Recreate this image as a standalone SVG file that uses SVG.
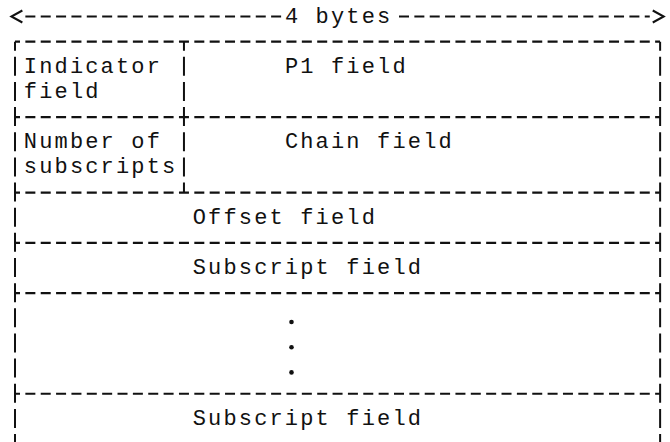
<svg xmlns="http://www.w3.org/2000/svg" width="670" height="442" viewBox="0 0 670 442">
  <style>
    .t { font-family: "Liberation Mono", "Courier New", monospace; font-size: 22px; letter-spacing: 2.16px; fill: #111; }
    .h { stroke: #111; stroke-width: 2.2; fill: none; stroke-dasharray: 10 5.36; stroke-dashoffset: 5; }
    .v { stroke: #111; stroke-width: 2; fill: none; stroke-dasharray: 19 6.15; stroke-dashoffset: 10; }
    .a { stroke: #111; stroke-width: 2.2; fill: none; stroke-dasharray: 10 5.36; }
    .dot { fill: #111; }
  </style>
  <defs>
    <marker id="chev" markerUnits="userSpaceOnUse" markerWidth="20" markerHeight="20" refX="-3" refY="0" orient="auto-start-reverse" overflow="visible">
      <path d="M0,-6 L11,0 L0,6" fill="none" stroke="#111" stroke-width="2"/>
    </marker>
  </defs>
  <rect width="670" height="442" fill="#fff"/>

  <g id="connectors">
    <path class="a" d="M25.36,16.5 H281.12" marker-start="url(#chev)"/>
    <path class="a" d="M399,16.5 H649.76" marker-end="url(#chev)"/>
  </g>
  <g id="width-label">
    <text class="t" x="284.9" y="22.5">4 bytes</text>
  </g>

  <g id="grid">
    <path class="h" d="M15,41.65 H660"/>
    <path class="h" d="M15,117.1 H660"/>
    <path class="h" d="M15,192.55 H660"/>
    <path class="h" d="M15,242.85 H660"/>
    <path class="h" d="M15,293.15 H660"/>
    <path class="h" d="M15,393.75 H660"/>
    <path class="v" d="M15,41.65 V442"/>
    <path class="v" d="M660.12,41.65 V442"/>
    <path class="v" d="M183.96,41.65 V192.55"/>
  </g>

  <g id="indicator-field">
    <text class="t" x="23.8" y="72.8">Indicator</text>
    <text class="t" x="23.8" y="97.95">field</text>
  </g>
  <g id="p1-field">
    <text class="t" x="284.9" y="72.8">P1 field</text>
  </g>
  <g id="number-of-subscripts">
    <text class="t" x="23.8" y="148.25">Number of</text>
    <text class="t" x="23.8" y="173.4">subscripts</text>
  </g>
  <g id="chain-field">
    <text class="t" x="284.9" y="148.25">Chain field</text>
  </g>
  <g id="offset-field">
    <text class="t" x="192.7" y="223.7">Offset field</text>
  </g>
  <g id="subscript-field-1">
    <text class="t" x="192.7" y="274">Subscript field</text>
  </g>
  <g id="ellipsis">
    <circle class="dot" cx="291.5" cy="322" r="2.3"/>
    <circle class="dot" cx="291.5" cy="347.2" r="2.3"/>
    <circle class="dot" cx="291.5" cy="372.4" r="2.3"/>
  </g>
  <g id="subscript-field-n">
    <text class="t" x="192.7" y="424.9">Subscript field</text>
  </g>
</svg>
